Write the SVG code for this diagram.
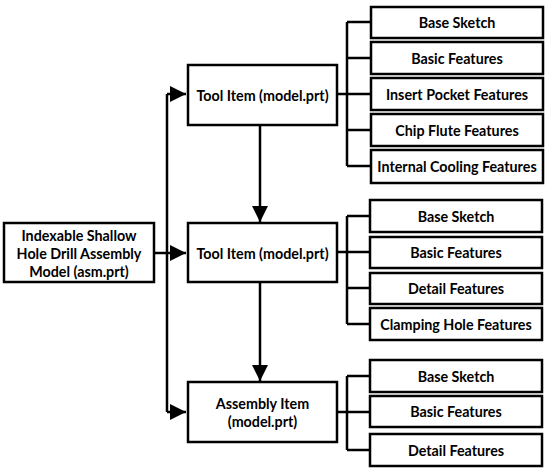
<svg xmlns="http://www.w3.org/2000/svg" width="550" height="474" viewBox="0 0 550 474">
<style>
rect{fill:#fff;stroke:#000;stroke-width:2.5}
text{font-family:Lato,"Open Sans",sans-serif;font-weight:bold;font-size:14.3px;text-anchor:middle;dominant-baseline:central;fill:#000}
.c{fill:none;stroke:#000;stroke-width:2.5}
</style>
<defs>
<marker id="a" viewBox="0 0 16 16" refX="16" refY="8" markerWidth="16" markerHeight="16" markerUnits="userSpaceOnUse" orient="auto">
<path d="M0,0L16,8L0,16Z" fill="#000"/>
</marker>
</defs>
<g id="connectors">
<path class="c" d="M154,253H186" marker-end="url(#a)"/>
<path class="c" d="M167,94V412"/>
<path class="c" d="M167,94H186" marker-end="url(#a)"/>
<path class="c" d="M167,412H186" marker-end="url(#a)"/>
<path class="c" d="M260,125V222" marker-end="url(#a)"/>
<path class="c" d="M260,282V381" marker-end="url(#a)"/>
<path class="c" d="M337,94H347M347,22V166M347,22H371M347,58H371M347,94H371M347,130H371M347,166H371"/>
<path class="c" d="M337,252H347M347,216V324M347,216H370M347,252H370M347,288H370M347,324H370"/>
<path class="c" d="M337,412H347M347,376V450M347,376H370M347,412H370M347,450H370"/>
</g>
<g id="root"><rect x="4" y="223" width="150" height="59"/><text x="79" y="235">Indexable Shallow</text><text x="79" y="253">Hole Drill Assembly</text><text x="79" y="271">Model (asm.prt)</text></g>
<g id="tool1"><rect x="188" y="65" width="149" height="60"/><text x="262.5" y="95">Tool Item (model.prt)</text></g>
<g id="tool2"><rect x="188" y="223" width="149" height="59"/><text x="262.5" y="253">Tool Item (model.prt)</text></g>
<g id="assembly"><rect x="188" y="382" width="149" height="60"/><text x="262.5" y="403">Assembly Item</text><text x="262.5" y="421">(model.prt)</text></g>
<g id="f1a"><rect x="371" y="7" width="172" height="31"/><text x="457" y="22.5">Base Sketch</text></g>
<g id="f1b"><rect x="371" y="42" width="172" height="32"/><text x="457" y="58">Basic Features</text></g>
<g id="f1c"><rect x="371" y="78" width="172" height="32"/><text x="457" y="94">Insert Pocket Features</text></g>
<g id="f1d"><rect x="371" y="114" width="172" height="32"/><text x="457" y="130">Chip Flute Features</text></g>
<g id="f1e"><rect x="371" y="150" width="172" height="33"/><text x="457" y="166.5">Internal Cooling Features</text></g>
<g id="f2a"><rect x="370" y="200" width="172" height="32"/><text x="456" y="216">Base Sketch</text></g>
<g id="f2b"><rect x="370" y="237" width="172" height="31"/><text x="456" y="252.5">Basic Features</text></g>
<g id="f2c"><rect x="370" y="273" width="172" height="31"/><text x="456" y="288.5">Detail Features</text></g>
<g id="f2d"><rect x="370" y="308" width="172" height="32"/><text x="456" y="324">Clamping Hole Features</text></g>
<g id="f3a"><rect x="370" y="360" width="172" height="32"/><text x="456" y="376">Base Sketch</text></g>
<g id="f3b"><rect x="370" y="396" width="172" height="31"/><text x="456" y="411.5">Basic Features</text></g>
<g id="f3c"><rect x="370" y="434" width="172" height="32"/><text x="456" y="450">Detail Features</text></g>
</svg>
